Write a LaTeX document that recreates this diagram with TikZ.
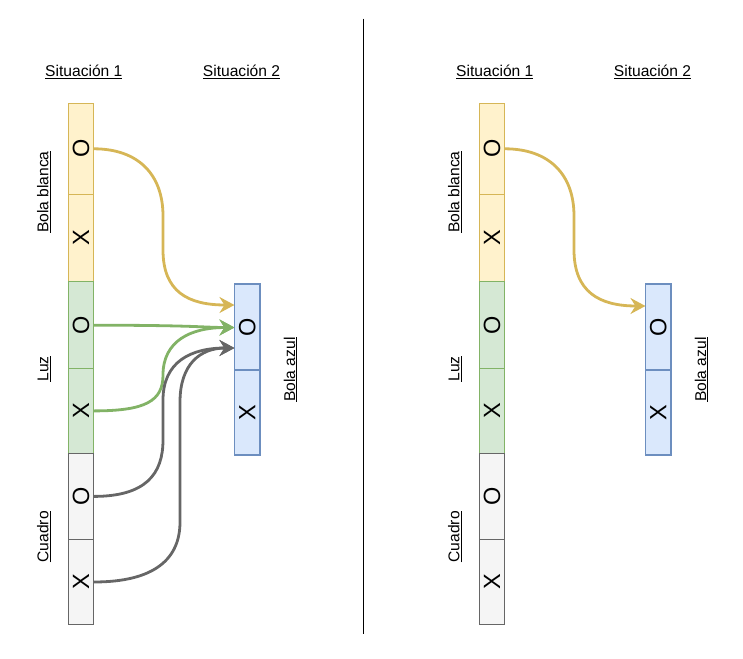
\documentclass[tikz,border=0pt]{standalone}
\usepackage{fontspec}
\usepackage{graphicx}
\setmainfont{Liberation Sans}
\usetikzlibrary{arrows.meta}
\definecolor{yfill}{HTML}{FFF2CC}\definecolor{ydraw}{HTML}{D6B656}
\definecolor{gfill}{HTML}{D5E8D4}\definecolor{gdraw}{HTML}{82B366}
\definecolor{cfill}{HTML}{F5F5F5}\definecolor{cdraw}{HTML}{666666}
\definecolor{bfill}{HTML}{DAE8FC}\definecolor{bdraw}{HTML}{6C8EBF}
\begin{document}
\begin{tikzpicture}[x=1pt,y=-1pt,
  cell/.style={draw, line width=1.1pt, minimum width=25.5pt, inner sep=0pt, outer sep=0pt,
    font=\fontsize{23.5}{23.5}\selectfont},
  lab/.style={inner sep=0pt, anchor=base, font=\fontsize{15.6}{18}\selectfont},
  vlab/.style={lab, rotate=90},
  arr/.style={line width=2.8pt, -{Stealth[length=15pt, width=16pt, inset=5pt]}},
  sep/.style={line width=1.3pt, black}]
\useasboundingbox (0,0) rectangle (743,658);
\foreach \s/\dx in {L/0,R/411}{
  % column Situacion 1
  \node[cell, fill=yfill, draw=ydraw, minimum height=91pt]   (\s wO) at (81+\dx,148.8) {\rotatebox{90}{O}};
  \node[cell, fill=yfill, draw=ydraw, minimum height=87.4pt] (\s wX) at (81+\dx,238)   {\rotatebox{90}{X}};
  \node[cell, fill=gfill, draw=gdraw, minimum height=87pt]   (\s lO) at (81+\dx,325.2) {\rotatebox{90}{O}};
  \node[cell, fill=gfill, draw=gdraw, minimum height=84.3pt] (\s lX) at (81+\dx,410.9) {\rotatebox{90}{X}};
  \node[cell, fill=cfill, draw=cdraw, minimum height=86.7pt] (\s cO) at (81+\dx,496.4) {\rotatebox{90}{O}};
  \node[cell, fill=cfill, draw=cdraw, minimum height=84.6pt] (\s cX) at (81+\dx,582)   {\rotatebox{90}{X}};
  % column Situacion 2
  \node[cell, fill=bfill, draw=bdraw, minimum height=86pt]   (\s bO) at (247.2+\dx,327)   {\rotatebox{90}{O}};
  \node[cell, fill=bfill, draw=bdraw, minimum height=85pt]   (\s bX) at (247.2+\dx,412.5) {\rotatebox{90}{X}};
  % labels
  \node[lab]  (\s s1) at (83.8+\dx,76.7)  {\underline{Situación 1}};
  \node[lab]  (\s s2) at (241.5+\dx,76.7) {\underline{Situación 2}};
  \node[vlab] (\s bb) at (48.3+\dx,192.2) {\underline{Bola blanca}};
  \node[vlab] (\s lz) at (48.3+\dx,369)   {\underline{Luz}};
  \node[vlab] (\s cu) at (48.3+\dx,536.7) {\underline{Cuadro}};
  \node[vlab] (\s ba) at (295+\dx,369.5)  {\underline{Bola azul}};
}
% divider
\coordinate (dt) at (363.3,18.7);
\coordinate (db) at (363.3,634);
\draw[sep] (dt) -- (db);
% left arrows
\draw[arr, ydraw] (LwO.east) .. controls +(44,0) and +(0,-42) .. (163,216) -- (163,250)
  .. controls +(0,42) and +(-46,0) .. ([yshift=22pt]LbO.west);
\draw[arr, gdraw] (LlO.east) .. controls +(100,0) and +(-30,0) .. ([yshift=-0.5pt]LbO.west);
\draw[arr, gdraw] (LlX.east) .. controls +(52,0) and +(0,26) .. (163,375)
  .. controls +(0,-34) and +(-44,0) .. ([yshift=-0.5pt]LbO.west);
\draw[arr, cdraw] (LcO.east) .. controls +(52,0) and +(0,34) .. (163,440) -- (163,400)
  .. controls +(0,-38) and +(-44,0) .. ([yshift=-21pt]LbO.west);
\draw[arr, cdraw] (LcX.east) .. controls +(62,0) and +(0,36) .. (180,522) -- (180,402)
  .. controls +(0,-38) and +(-34,0) .. ([yshift=-21pt]LbO.west);
% right arrow
\draw[arr, ydraw] (RwO.east) .. controls +(44,0) and +(0,-42) .. (574,216) -- (574,250)
  .. controls +(0,42) and +(-46,0) .. ([yshift=21pt]RbO.west);
\end{tikzpicture}
\end{document}
